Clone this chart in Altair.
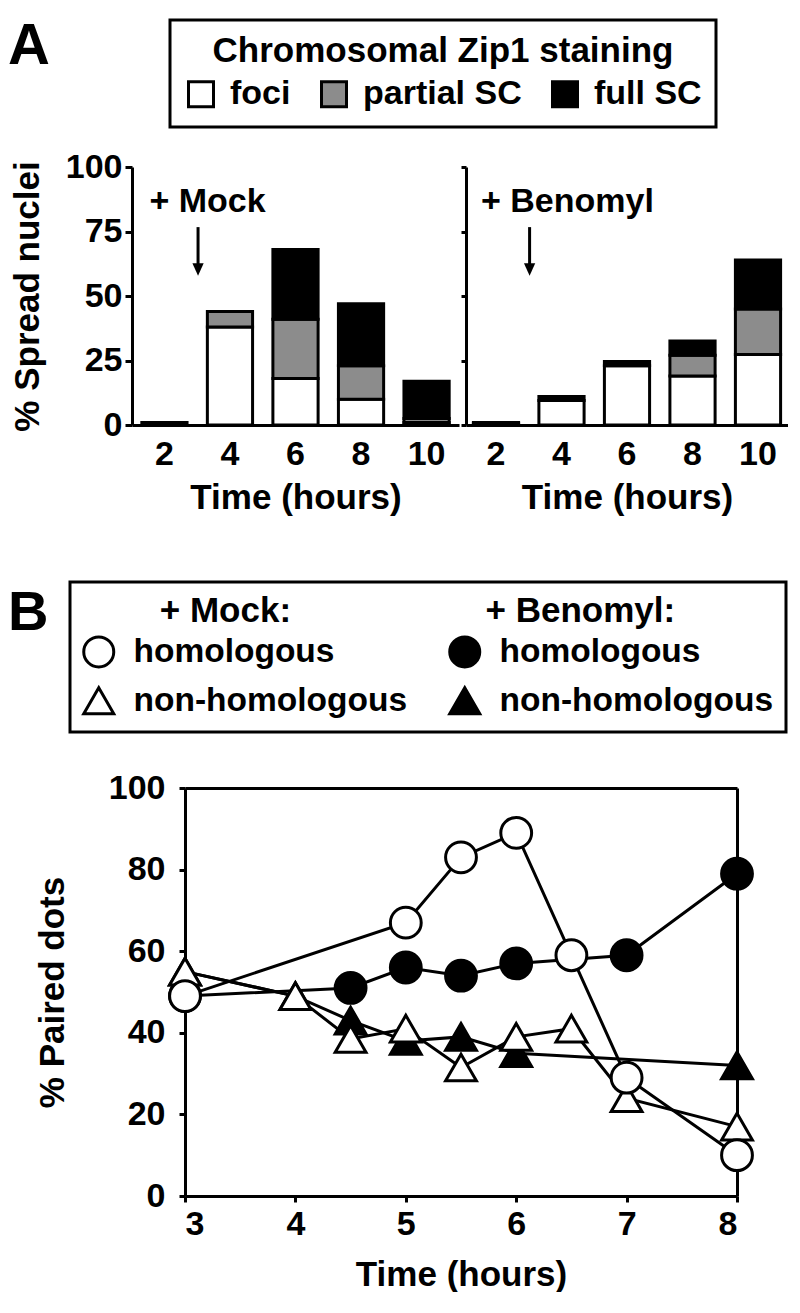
import altair as alt
import pandas as pd

FONT = "Liberation Sans"

# ---------------- Panel A data ----------------
times_a = ["2", "4", "6", "8", "10"]
stages = ["foci", "partial SC", "full SC"]
stage_fills = ["white", "#8c8c8c", "black"]
mock_foci = [1, 38, 18, 10, 1]
mock_partial = [0, 6, 23, 13, 1.5]
mock_full = [0, 0, 27, 24, 14.5]
ben_foci = [0.5, 9.5, 23, 19, 27.3]
ben_partial = [0, 0, 0, 8, 17.7]
ben_full = [0.5, 1.5, 1.6, 5.6, 19]

treat_labels = ["+ Mock", "+ Benomyl"]
label_y = [86.4, 86.4]
arrow_top = [76.7, 76.7]
arrow_head = [60.3, 60.3]
arrow_time = ["2", "2"]

# ---------------- Panel B data ----------------
series = ["Mock homologous", "Mock non-homologous", "Benomyl homologous", "Benomyl non-homologous"]
series_shapes = ["circle", "triangle-up", "circle", "triangle-up"]
series_fills = ["white", "white", "black", "black"]
mock_hom_t = [3, 5, 5.5, 6, 6.5, 7, 8]
mock_hom_v = [49, 67, 83, 89, 59, 29, 10]
mock_non_t = [3, 4, 4.5, 5, 5.5, 6, 6.5, 7, 8]
mock_non_v = [55, 49, 38.5, 41, 31.5, 39, 41, 24, 17]
ben_hom_t = [3, 4.5, 5, 5.5, 6, 7, 8]
ben_hom_v = [49, 51, 56, 54, 57, 59, 79]
ben_non_t = [3, 4, 4.5, 5, 5.5, 6, 8]
ben_non_v = [55, 49, 43, 38, 39, 35, 32]

# ---------------- tables ----------------
rows = []
for tr, parts in [("+ Mock", [mock_foci, mock_partial, mock_full]),
                  ("+ Benomyl", [ben_foci, ben_partial, ben_full])]:
    for si, (st, vals) in enumerate(zip(stages, parts)):
        for t, v in zip(times_a, vals):
            if v > 0:
                rows.append({"treatment": tr, "time": t, "stage": st, "si": si, "value": v})
df_a = pd.DataFrame(rows)
df_ann = pd.DataFrame({"treatment": treat_labels, "label_y": label_y,
                       "arrow_top": arrow_top, "arrow_head": arrow_head, "time": arrow_time})

rows_b = []
for name, ts, vs in [("Benomyl non-homologous", ben_non_t, ben_non_v),
                     ("Benomyl homologous", ben_hom_t, ben_hom_v),
                     ("Mock non-homologous", mock_non_t, mock_non_v),
                     ("Mock homologous", mock_hom_t, mock_hom_v)]:
    for t, v in zip(ts, vs):
        rows_b.append({"series": name, "t": t, "v": v})
df_b = pd.DataFrame(rows_b)

label_axis = dict(labelFont=FONT, labelFontSize=34, labelFontWeight="bold", labelColor="black",
                  titleFont=FONT, titleFontSize=35, titleFontWeight="bold", titleColor="black",
                  domainColor="black", domainWidth=3, tickColor="black", tickWidth=3)

yscale_a = alt.Scale(domain=[0, 100], nice=False)

legend_a = alt.Legend(
    title="Chromosomal Zip1 staining", orient="none", legendX=38, legendY=-147,
    direction="horizontal", titleAnchor="middle", titleOrient="top",
    titleFont=FONT, titleFontSize=35, titleFontWeight="bold", titleColor="black",
    titlePadding=8, titleLimit=900,
    labelFont=FONT, labelFontSize=34, labelFontWeight="bold", labelColor="black",
    labelOffset=12, labelLimit=500,
    symbolType="square", symbolSize=625, symbolStrokeColor="black", symbolStrokeWidth=3,
    columnPadding=24, padding=14, strokeColor="black")


def panel_a(tr, first):
    d = df_a[df_a.treatment == tr]
    ann = df_ann[df_ann.treatment == tr]
    if first:
        xscale = alt.Scale(domain=times_a, paddingInner=0.31, paddingOuter=0.15)
        width = 327
        yaxis = alt.Axis(title="% Spread nuclei", values=[0, 25, 50, 75, 100], tickSize=7,
                         labelPadding=3, titlePadding=20, grid=False, **label_axis)
    else:
        xscale = alt.Scale(domain=times_a, paddingInner=0.31, paddingOuter=0.113)
        width = 322
        yaxis = alt.Axis(title=None, values=[0, 25, 50, 75, 100], labels=False, tickSize=5,
                         grid=False, **label_axis)
    xaxis = alt.Axis(title="Time (hours)", labelAngle=0, ticks=False, labelPadding=12,
                     titlePadding=9, **label_axis)
    bars = alt.Chart(d).mark_bar(stroke="black", strokeWidth=3, strokeJoin="miter").encode(
        x=alt.X("time:N", sort=times_a, scale=xscale, axis=xaxis),
        y=alt.Y("value:Q", stack="zero", scale=yscale_a, axis=yaxis),
        color=alt.Color("stage:N", scale=alt.Scale(domain=stages, range=stage_fills),
                        legend=legend_a),
        order=alt.Order("si:Q", sort="ascending"),
    )
    txt = alt.Chart(ann).mark_text(align="left", baseline="middle", dx=-15, font=FONT,
                                   fontSize=34, fontWeight="bold", color="black").encode(
        x=alt.X("time:N", sort=times_a, scale=xscale),
        y=alt.Y("label_y:Q", scale=yscale_a),
        text="treatment:N",
    )
    shaft = alt.Chart(ann).mark_rule(color="black", strokeWidth=3, xOffset=11).encode(
        x=alt.X("time:N", sort=times_a, scale=xscale, bandPosition=1),
        y=alt.Y("arrow_top:Q", scale=yscale_a),
        y2="arrow_head:Q",
    )
    head = alt.Chart(ann).mark_point(shape="M-0.45,-0.5L0.45,-0.5L0,0.5Z", filled=True,
                                     color="black", size=625, opacity=1, xOffset=11).encode(
        x=alt.X("time:N", sort=times_a, scale=xscale, bandPosition=1),
        y=alt.Y("arrow_head:Q", scale=yscale_a),
    )
    layer = alt.layer(bars, txt, shaft, head).properties(
        width=width, height=258, view=alt.ViewBackground(stroke=None))
    if first:
        layer = layer.properties(title=alt.Title(
            "A", anchor="start", frame="group", font=FONT, fontSize=58, fontWeight="bold",
            color="black", dx=-124, offset=74))
    return layer


panelA = alt.hconcat(panel_a("+ Mock", True), panel_a("+ Benomyl", False), spacing=0)

# ---------------- Panel B ----------------
nb = "\u00a0"
legend_b = alt.Legend(
    title="\u200b" + nb * 8 + "+ Mock:" + nb * 20 + "+ Benomyl:", orient="none",
    legendX=-62, legendY=415, columns=2,
    titleFont=FONT, titleFontSize=35, titleFontWeight="bold", titleColor="black",
    titleAnchor="start", titlePadding=6, titleLimit=900,
    labelFont=FONT, labelFontSize=33.5, labelFontWeight="bold", labelColor="black",
    labelLimit=500,
    labelExpr="indexof(datum.label, 'non') >= 0 ? 'non-homologous' : 'homologous'",
    labelOffset=18, symbolSize=900, symbolStrokeColor="black", symbolStrokeWidth=3,
    columnPadding=35, rowPadding=8, padding=12, strokeColor="black")

B_SHIFT = 53
B_W = 552
xscale_b = alt.Scale(domain=[3, 8], nice=False, range=[B_SHIFT, B_SHIFT + B_W])
yscale_b = alt.Scale(domain=[0, 100], nice=False)

xb = alt.X("t:Q", scale=xscale_b,
           axis=alt.Axis(title="Time (hours)", values=[3, 4, 5, 6, 7, 8], tickSize=6,
                         labelPadding=5, titlePadding=16, grid=False, **label_axis))
yb = alt.Y("v:Q", scale=yscale_b,
           axis=alt.Axis(title="% Paired dots", values=[0, 20, 40, 60, 80, 100], tickSize=6,
                         labelPadding=14, grid=False, titlePadding=38, offset=-B_SHIFT,
                         **label_axis))
xb_top = alt.X("t:Q", scale=xscale_b,
               axis=alt.Axis(orient="top", title=None, labels=False, ticks=False, grid=False,
                             domainColor="black", domainWidth=3))
yb_right = alt.Y("v:Q", scale=yscale_b,
                 axis=alt.Axis(orient="right", title=None, labels=False, ticks=False,
                               grid=False, domainColor="black", domainWidth=3))

lines = alt.Chart(df_b).mark_line(color="black", strokeWidth=3).encode(
    x=xb, y=yb, detail="series:N", order="t:Q")
points = alt.Chart(df_b).mark_point(filled=True, strokeWidth=3, size=950, opacity=1).encode(
    x=xb_top, y=yb_right,
    shape=alt.Shape("series:N", scale=alt.Scale(domain=series, range=series_shapes), legend=legend_b),
    fill=alt.Fill("series:N", scale=alt.Scale(domain=series, range=series_fills), legend=legend_b),
    stroke=alt.Stroke("series:N", scale=alt.Scale(domain=series, range=["black"] * 4),
                      legend=legend_b),
)
panelB = alt.layer(lines, points).resolve_axis(x="independent", y="independent").properties(
    width=B_SHIFT + B_W, height=408,
    view=alt.ViewBackground(stroke=None),
    title=alt.Title("B", anchor="start", frame="group", font=FONT, fontSize=56,
                    fontWeight="bold", color="black", dx=-124, offset=129))

chart = alt.vconcat(panelA, panelB, spacing=70).properties(
    padding={"left": 0, "top": 10, "right": 0, "bottom": 0}
).configure(background="white").configure_legend(strokeWidth=3)

chart.save("out.html", embed_options={"renderer": "svg", "actions": False})
